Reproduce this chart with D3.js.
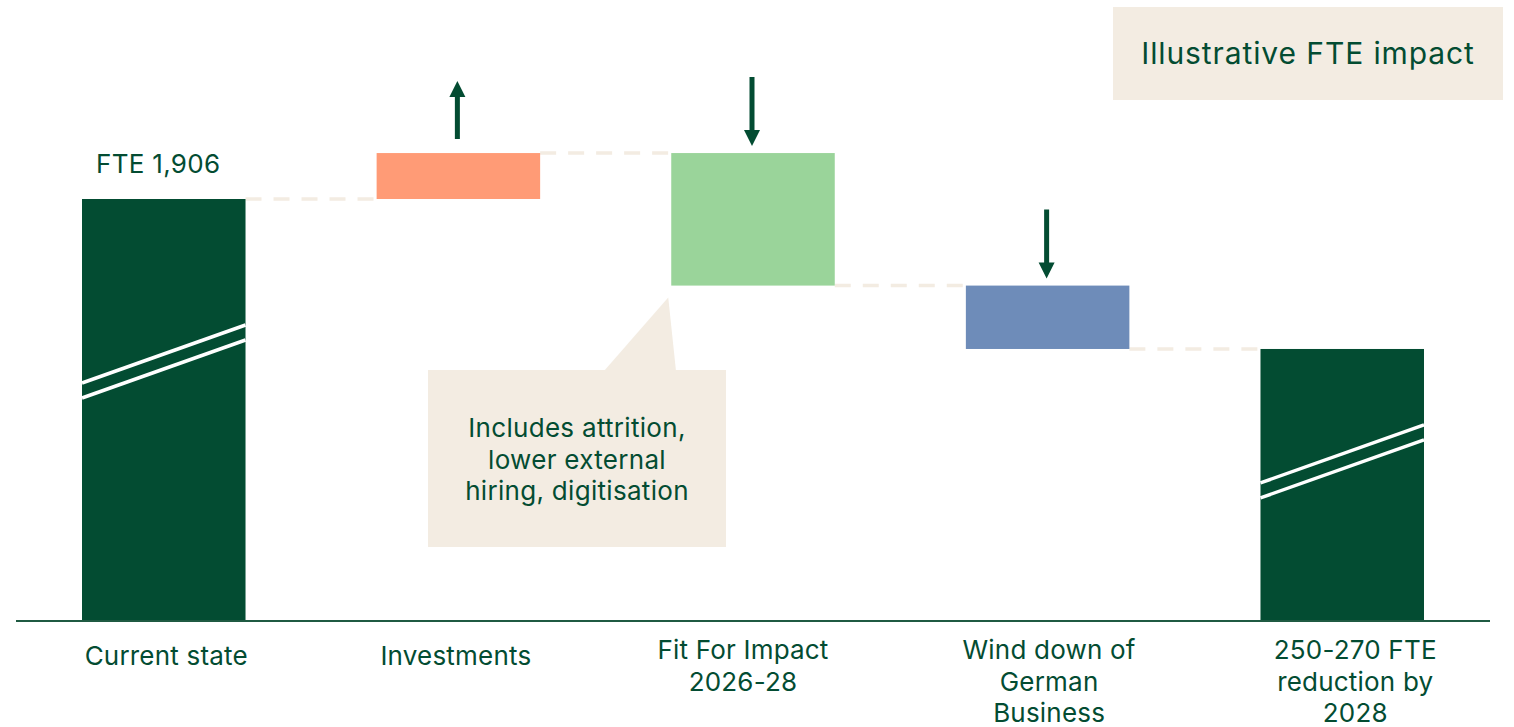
<!DOCTYPE html>
<html>
<head>
<meta charset="utf-8">
<script src="https://cdn.jsdelivr.net/npm/d3@7"></script>
<style>
  html, body { margin: 0; padding: 0; background: #fff; }
  svg { display: block; font-family: Inter, "Noto Sans", sans-serif; }
</style>
</head>
<body>
<div id="chart"></div>
<script>
  // Waterfall data (illustrative)
  const categories = ['current', 'investments', 'fit', 'winddown', 'final'];
  const labelLines = [
    ['Current state'],
    ['Investments'],
    ['Fit For Impact', '2026-28'],
    ['Wind down of', 'German', 'Business'],
    ['250-270 FTE', 'reduction by', '2028']
  ];
  const kinds = ['total', 'increase', 'decrease', 'decrease', 'total'];
  const startValue = 1906;
  const deltas = [0, 208, -600, -287, 0];
  const barColors = ['#034c32', '#ff9b76', '#9ad49a', '#6e8cb9', '#034c32'];
  const calloutLines = ['Includes attrition,', 'lower external', 'hiring, digitisation'];
  const titleText = 'Illustrative FTE impact';

  const W = 1514, H = 727;
  const green = '#034c32';
  const beige = '#f3ece2';

  // build waterfall steps
  let running = startValue;
  const steps = categories.map((c, i) => {
    let y0, y1;
    if (kinds[i] === 'total') {
      y0 = 0; y1 = running;
    } else {
      const prev = running;
      running += deltas[i];
      y0 = Math.min(prev, running); y1 = Math.max(prev, running);
    }
    return { key: c, kind: kinds[i], y0, y1, end: running, lines: labelLines[i], color: barColors[i] };
  });

  const svg = d3.select('#chart').append('svg')
    .attr('width', W)
    .attr('height', H);

  const x = d3.scaleBand()
    .domain(categories)
    .range([82, 1424])
    .paddingInner(0.445)
    .paddingOuter(0);

  const y = d3.scaleLinear()
    .domain([0, startValue])
    .range([620, 199]);

  // dashed connectors
  const conn = svg.append('g').attr('class', 'connectors');
  steps.slice(0, -1).forEach((d, i) => {
    const next = steps[i + 1];
    conn.append('line')
      .attr('x1', x(d.key) + x.bandwidth())
      .attr('x2', x(next.key))
      .attr('y1', y(d.end))
      .attr('y2', y(d.end))
      .attr('stroke', beige)
      .attr('stroke-width', 3.5)
      .attr('stroke-dasharray', '16 12');
  });

  // bars
  svg.append('g').selectAll('rect')
    .data(steps)
    .enter()
    .append('rect')
    .attr('x', d => x(d.key))
    .attr('y', d => y(d.y1))
    .attr('width', x.bandwidth())
    .attr('height', d => y(d.y0) - y(d.y1))
    .attr('fill', d => d.color);

  // axis break marks on total bars
  const breakFrac = { current: 0.563, final: 0.506 };
  steps.filter(d => d.kind === 'total').forEach(d => {
    const x0 = x(d.key), x1 = x0 + x.bandwidth();
    const yl = y(0) - breakFrac[d.key] * (y(0) - y(d.y1));
    [0, 15].forEach(off => {
      svg.append('line')
        .attr('x1', x0).attr('y1', yl + off)
        .attr('x2', x1).attr('y2', yl + off - 58)
        .attr('stroke', '#fff')
        .attr('stroke-width', 3.5);
    });
  });

  // baseline
  svg.append('line')
    .attr('x1', 16).attr('x2', 1490)
    .attr('y1', 621).attr('y2', 621)
    .attr('stroke', '#1f5a42')
    .attr('stroke-width', 2);

  // arrows
  const arrows = svg.append('g').attr('class', 'arrows');
  steps.filter(d => d.kind !== 'total').forEach(d => {
    const cx = x(d.key) + x.bandwidth() / 2 - 1;
    const top = y(d.y1);
    let path;
    if (d.kind === 'increase') {
      const tip = top - 72, base = top - 14;
      path = `M${cx - 2.5},${base} L${cx - 2.5},${tip + 16} L${cx - 8},${tip + 16} L${cx},${tip} L${cx + 8},${tip + 16} L${cx + 2.5},${tip + 16} L${cx + 2.5},${base} Z`;
    } else {
      const tip = top - 7, start = tip - 69;
      path = `M${cx - 2.5},${start} L${cx - 2.5},${tip - 16} L${cx - 8},${tip - 16} L${cx},${tip} L${cx + 8},${tip - 16} L${cx + 2.5},${tip - 16} L${cx + 2.5},${start} Z`;
    }
    arrows.append('path').attr('d', path).attr('fill', green);
  });

  // category labels (small nudges off the band centre, as in the slide)
  const labelShift = { current: 2.5, investments: -2.5, fit: -10, winddown: 1.5, final: 13 };
  const labels = svg.append('g').attr('class', 'labels')
    .attr('font-size', 26)
    .attr('letter-spacing', 0.2)
    .attr('fill', green)
    .attr('text-anchor', 'middle');
  steps.forEach(d => {
    const cx = x(d.key) + x.bandwidth() / 2 + labelShift[d.key];
    const t = labels.append('text')
      .attr('x', cx)
      .attr('y', d.lines.length === 1 ? 665 : 659);
    d.lines.forEach((ln, i) => {
      t.append('tspan')
        .attr('x', cx)
        .attr('dy', i === 0 ? 0 : 31.5)
        .text(ln);
    });
  });

  // starting value label
  svg.append('text')
    .attr('x', x('current') + 14)
    .attr('y', 173)
    .attr('font-size', 26)
    .attr('letter-spacing', 0.3)
    .attr('fill', green)
    .text('FTE ' + d3.format(',')(startValue));

  // callout
  const fitX = x('fit');
  const fitBottom = y(steps[2].y0);
  const box = { x: 428, y: 370, w: 298, h: 177 };
  const callout = svg.append('g').attr('class', 'callout');
  callout.append('rect')
    .attr('x', box.x).attr('y', box.y)
    .attr('width', box.w).attr('height', box.h)
    .attr('fill', beige);
  callout.append('path')
    .attr('d', `M604,${box.y + 1} L${fitX - 3},${fitBottom + 12} L676,${box.y + 1} Z`)
    .attr('fill', beige);
  const ct = callout.append('text')
    .attr('text-anchor', 'middle')
    .attr('font-size', 26)
    .attr('letter-spacing', 0.3)
    .attr('fill', green)
    .attr('y', 437);
  calloutLines.forEach((ln, i) => {
    ct.append('tspan')
      .attr('x', box.x + box.w / 2)
      .attr('dy', i === 0 ? 0 : 31.5)
      .text(ln);
  });

  // title box
  svg.append('rect')
    .attr('x', 1113).attr('y', 7)
    .attr('width', 390).attr('height', 93)
    .attr('fill', beige);
  svg.append('text')
    .attr('x', 1308).attr('y', 64)
    .attr('text-anchor', 'middle')
    .attr('font-size', 30)
    .attr('letter-spacing', 0.9)
    .attr('fill', green)
    .text(titleText);
</script>
</body>
</html>
